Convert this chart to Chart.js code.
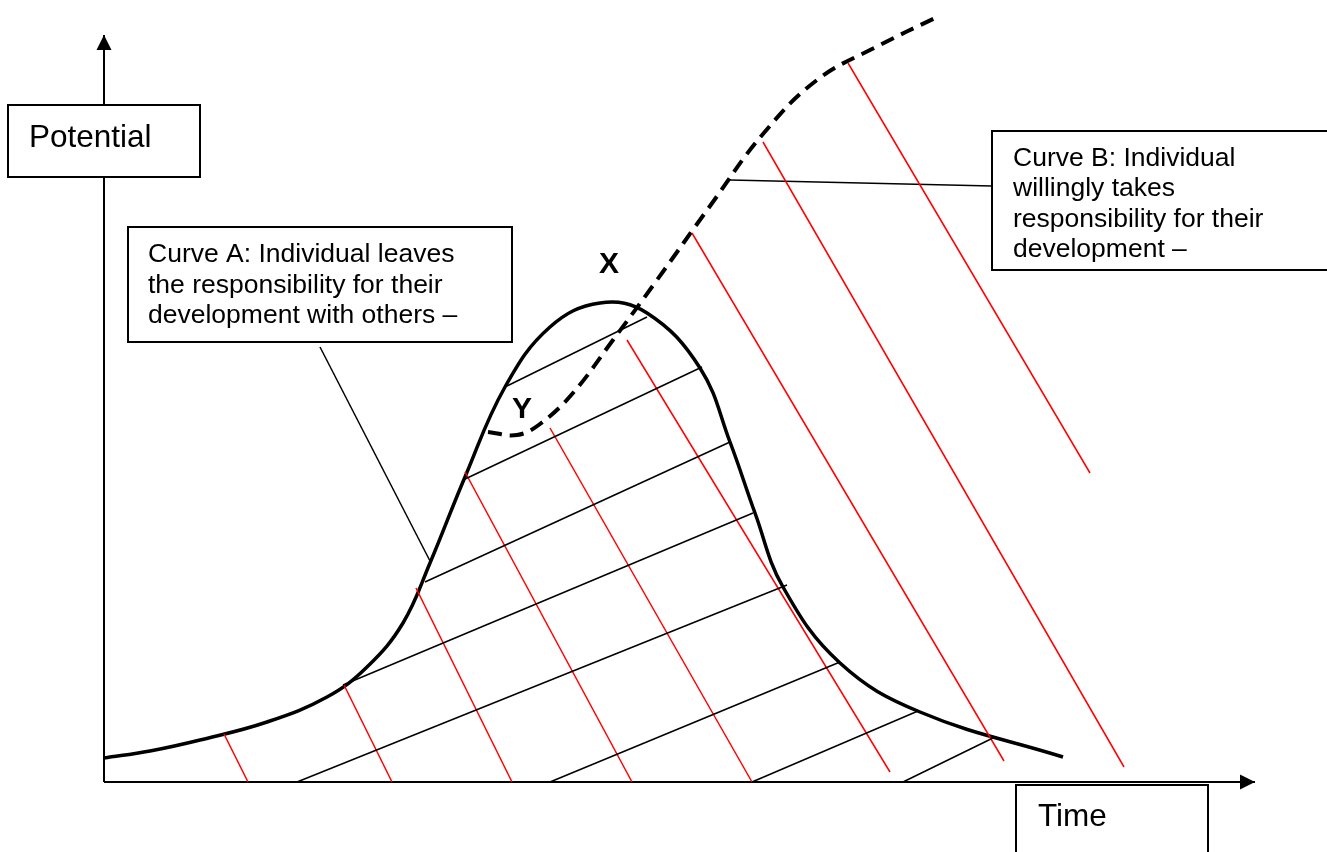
<!DOCTYPE html>
<html>
<head>
<meta charset="utf-8">
<title>Potential over time</title>
<script src="https://cdn.jsdelivr.net/npm/chart.js@4.4.1/dist/chart.umd.min.js"></script>
<style>
  html, body { margin: 0; padding: 0; background: #fff; }
  #wrap { width: 1327px; height: 852px; position: relative; }
</style>
</head>
<body>
<div id="wrap"><canvas id="diagram"></canvas></div>
<script>
// Values: x = time, y = potential (origin where the axes meet)

const timeAxis = [[0, 0], [1151, 0]];
const potentialAxis = [[0, 0], [0, 747]];

// Curve A: bell shaped, solid
const curveA = [
  [0, 24], [46, 31], [96, 42], [163, 60], [223, 85], [263, 115], [299, 159],
  [326, 219], [361, 305], [401, 395], [446, 455], [496, 479], [543, 469],
  [596, 414], [626, 340], [651, 269], [679, 195], [736, 119], [816, 70],
  [959, 25]
];

// Curve B: dashed, leaves curve A at Y and keeps rising
const curveB = [
  [384, 350], [413, 347], [436, 358], [469, 389], [509, 442], [553, 502],
  [606, 576], [659, 648], [713, 702], [776, 737], [831, 764]
];

// hatching under curve A (black, rising) and the red strokes
const blackHatch = [
  [[193, 0], [683, 197]],
  [[239, 97], [649, 269]],
  [[321, 200], [626, 340]],
  [[359, 302], [598, 415]],
  [[403, 396], [543, 465]],
  [[446, 0], [736, 120]],
  [[648, 0], [814, 71]],
  [[799, 0], [891, 45]]
];
const redHatch = [
  [[120, 48], [144, 0]],
  [[240, 97], [288, 0]],
  [[312, 194], [408, 0]],
  [[361, 310], [528, 0]],
  [[446, 354], [648, 0]],
  [[523, 442], [786, 10]],
  [[588, 549], [900, 21]],
  [[659, 640], [1020, 15]],
  [[744, 719], [986, 309]]
];

// callout leader lines
const leaderA = [[216, 435], [326, 221]];
const leaderB = [[626, 602], [888, 596]];

// texts
const potentialLabel = ['Potential'];
const timeLabel = ['Time'];
const curveALabel = ['Curve A: Individual leaves', 'the responsibility for their', 'development with others \u2013'];
const curveBLabel = ['Curve B: Individual', 'willingly takes', 'responsibility for their', 'development \u2013'];
const pointLabels = ['X', 'Y'];

const FONT = '"Liberation Sans", Arial, sans-serif';

// where the boxes sit (in the same units as the data)
const boxes = [
  { lines: potentialLabel, t: [-96, 96], p: [677, 605], size: 31.5, padX: 21, base: 42, lh: 0 },
  { lines: curveALabel, t: [24, 408], p: [555, 440], size: 26.5, padX: 20, base: 35, lh: 30.5 },
  { lines: curveBLabel, t: [888, 1240], p: [651, 512], size: 26.5, padX: 21, base: 35, lh: 30.3 },
  { lines: timeLabel, t: [912, 1104], p: [-3, -90], size: 31.5, padX: 22, base: 41, lh: 0 }
];
const marks = [
  { text: pointLabels[0], at: [495, 509] },
  { text: pointLabels[1], at: [408, 364] }
];

const toXY = arr => arr.map(([x, y]) => ({ x, y }));

function lineSet(name, pts, color, width, extra) {
  return Object.assign({
    label: name,
    data: toXY(pts),
    showLine: true,
    borderColor: color,
    borderWidth: width,
    pointRadius: 0,
    pointHoverRadius: 0,
    fill: false,
    tension: 0
  }, extra || {});
}

let datasets = [];
blackHatch.forEach((seg, i) => datasets.push(lineSet('hatch ' + i, seg, '#000', 1.5)));
redHatch.forEach((seg, i) => datasets.push(lineSet('red ' + i, seg, '#ff0000', 1.5)));
datasets.push(lineSet('leader A', leaderA, '#000', 1.5));
datasets.push(lineSet('leader B', leaderB, '#000', 1.5));
datasets.push(lineSet('Curve A', curveA, '#000', 3.5, { tension: 0.4 }));
datasets.push(lineSet('Curve B', curveB, '#000', 4, { tension: 0.4, borderDash: [14, 8] }));
datasets.push(lineSet('Time', timeAxis, '#000', 2, { arrow: true }));
datasets.push(lineSet('Potential', potentialAxis, '#000', 2, { arrow: true }));

// arrowheads on the axes + text boxes
const diagramExtras = {
  id: 'diagramExtras',
  afterDatasetsDraw(chart) {
    const ctx = chart.ctx;
    const xs = chart.scales.x, ys = chart.scales.y;

    // arrowheads
    chart.data.datasets.forEach(ds => {
      if (!ds.arrow) return;
      const n = ds.data.length;
      const a = ds.data[n - 2], b = ds.data[n - 1];
      const x1 = xs.getPixelForValue(a.x), y1 = ys.getPixelForValue(a.y);
      const x2 = xs.getPixelForValue(b.x), y2 = ys.getPixelForValue(b.y);
      const ang = Math.atan2(y2 - y1, x2 - x1);
      const len = 15, half = 7.5;
      ctx.save();
      ctx.translate(x2, y2);
      ctx.rotate(ang);
      ctx.beginPath();
      ctx.moveTo(0, 0);
      ctx.lineTo(-len, -half);
      ctx.lineTo(-len, half);
      ctx.closePath();
      ctx.fillStyle = '#000';
      ctx.fill();
      ctx.restore();
    });

    // boxes
    boxes.forEach(bx => {
      const left = xs.getPixelForValue(bx.t[0]);
      const right = xs.getPixelForValue(bx.t[1]);
      const top = ys.getPixelForValue(bx.p[0]);
      const bottom = ys.getPixelForValue(bx.p[1]);
      ctx.save();
      ctx.fillStyle = '#fff';
      ctx.fillRect(left, top, right - left, bottom - top);
      ctx.lineWidth = 2;
      ctx.strokeStyle = '#000';
      ctx.strokeRect(left, top, right - left, bottom - top);
      ctx.beginPath();
      ctx.rect(left + 1, top + 1, right - left - 2, bottom - top - 2);
      ctx.clip();
      ctx.fillStyle = '#000';
      ctx.font = bx.size + 'px ' + FONT;
      ctx.textAlign = 'left';
      ctx.textBaseline = 'alphabetic';
      bx.lines.forEach((txt, i) => {
        ctx.fillText(txt, left + bx.padX, top + bx.base + i * bx.lh);
      });
      ctx.restore();
    });

    // X and Y
    ctx.save();
    ctx.fillStyle = '#000';
    ctx.font = 'bold 30px ' + FONT;
    ctx.textAlign = 'left';
    ctx.textBaseline = 'alphabetic';
    marks.forEach(m => {
      ctx.fillText(m.text, xs.getPixelForValue(m.at[0]), ys.getPixelForValue(m.at[1]));
    });
    ctx.restore();
  }
};

new Chart(document.querySelector('#diagram'), {
  type: 'scatter',
  data: { datasets: datasets },
  options: {
    responsive: true,
    maintainAspectRatio: false,
    animation: false,
    layout: { padding: 0 },
    plugins: {
      legend: { display: false },
      tooltip: { enabled: false }
    },
    events: [],
    scales: {
      x: { type: 'linear', min: -104, max: 1223, display: false },
      y: { type: 'linear', min: -70, max: 782, display: false }
    }
  },
  plugins: [diagramExtras]
});
</script>
</body>
</html>
